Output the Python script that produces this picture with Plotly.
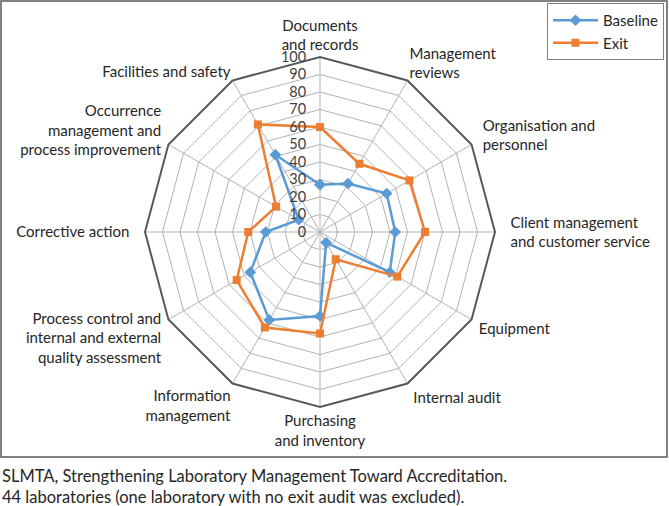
import plotly.graph_objects as go

categories = [
    "Documents<br>and records",
    "Management<br>reviews",
    "Organisation and<br>personnel",
    "Client management<br>and customer service",
    "Equipment",
    "Internal audit",
    "Purchasing<br>and inventory",
    "Information<br>management",
    "Process control and<br>internal and external<br>quality assessment",
    "Corrective action",
    "Occurrence<br>management and<br>process improvement",
    "Facilities and safety",
]
baseline = [27, 32, 44, 43, 46, 7, 48, 58, 46, 31, 14, 51]
exit_vals = [60, 45, 59, 60, 51, 18, 58, 63, 55, 41, 29, 71]
radial_ticks = [0, 10, 20, 30, 40, 50, 60, 70, 80, 90, 100]
footnote = [
    "SLMTA, Strengthening Laboratory Management Toward Accreditation.",
    "44 laboratories (one laboratory with no exit audit was excluded).",
]

# label padding (non-breaking spaces) so labels sit a bit further from the frame
pad_left = [0, 0, 2, 3, 1, 1, 0, 0, 0, 0, 0, 0]   # prepended (right-side labels)
pad_right = [0, 0, 0, 0, 0, 0, 0, 0, 1, 3, 1, 0]  # appended (left-side labels)
NB = "\u00a0"


def padded(label, l, r):
    return "<br>".join(NB * l + line + NB * r for line in label.split("<br>"))


labels = [padded(c, l, r) for c, l, r in zip(categories, pad_left, pad_right)]
radial_text = [f"{v}{NB * 3}" for v in radial_ticks]

FONT = "Lato"
W, H = 669, 506

fig = go.Figure()
fig.add_trace(go.Scatterpolar(
    r=baseline + baseline[:1], theta=labels + labels[:1],
    mode="lines+markers", name="Baseline",
    line=dict(color="#5B9BD5", width=2.5),
    marker=dict(symbol="diamond", size=9, color="#5B9BD5"),
))
fig.add_trace(go.Scatterpolar(
    r=exit_vals + exit_vals[:1], theta=labels + labels[:1],
    mode="lines+markers", name="Exit",
    line=dict(color="#ED7D31", width=2.5),
    marker=dict(symbol="square", size=8, color="#ED7D31"),
))

cx, cy, R = 320, 232, 175
fig.update_layout(
    width=W, height=H,
    margin=dict(l=0, r=0, t=0, b=0),
    paper_bgcolor="white", plot_bgcolor="white",
    font=dict(family=FONT, size=14, color="#262626"),
    polar=dict(
        domain=dict(x=[(cx - R) / W, (cx + R) / W], y=[1 - (cy + R) / H, 1 - (cy - R) / H]),
        gridshape="linear",
        bgcolor="white",
        angularaxis=dict(
            rotation=90, direction="clockwise",
            showline=True, linecolor="#595959", linewidth=2,
            gridcolor="#b3b3b3", gridwidth=1,
            ticks="", tickfont=dict(family=FONT, size=15, color="#262626"),
        ),
        radialaxis=dict(
            range=[0, 100], tickvals=radial_ticks, ticktext=radial_text, angle=90,
            side="counterclockwise", tickangle=90,
            showline=False, gridcolor="#b3b3b3", gridwidth=1,
            ticks="", tickfont=dict(family=FONT, size=14.5, color="#404040"),
        ),
    ),
    legend=dict(
        x=664 / W, xanchor="right", y=1 - 3 / H, yanchor="top",
        bordercolor="#7f7f7f", borderwidth=1, bgcolor="white",
        font=dict(family=FONT, size=15, color="#262626"),
        itemwidth=45,
    ),
    showlegend=True,
)

fig.add_shape(type="rect", xref="paper", yref="paper",
              x0=1 / W, x1=667 / W, y0=1 - 457 / H, y1=1 - 1 / H,
              line=dict(color="#595959", width=1.5), fillcolor="rgba(0,0,0,0)", layer="below")

fig.add_annotation(text="<br>".join(footnote), xref="paper", yref="paper",
                   x=0, xanchor="left", y=1 - 486 / H, yanchor="middle", align="left",
                   showarrow=False, font=dict(family=FONT, size=16.5, color="#262626"))

fig.write_html("out.html", config={"displayModeBar": False},
               post_script="document.body.style.margin='0';")
